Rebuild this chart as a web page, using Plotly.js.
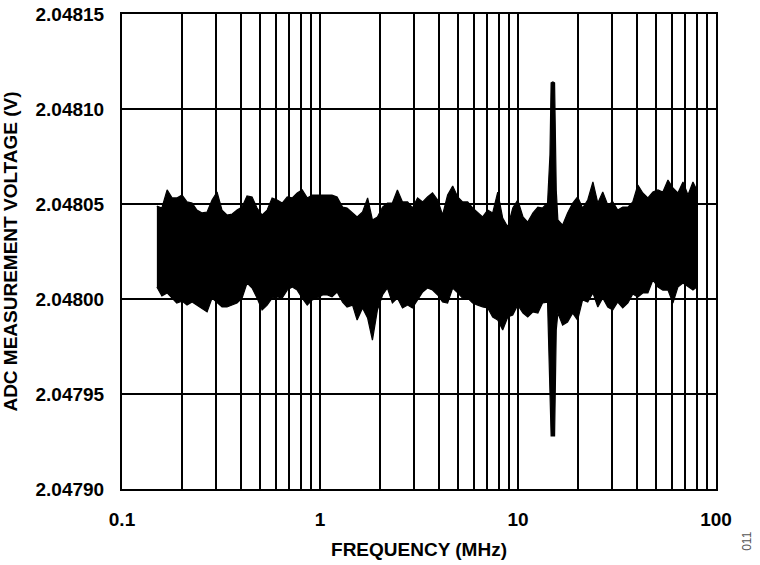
<!DOCTYPE html>
<html>
<head>
<meta charset="utf-8">
<script src="https://cdn.plot.ly/plotly-3.0.1.min.js"></script>
<style>html,body{margin:0;padding:0;background:#fff;}#chart{width:760px;height:565px;}</style>
</head>
<body>
<div id="chart"></div>
<script>
// Frequency sample points (MHz)
const freqMHz = [0.150,0.159,0.169,0.179,0.189,0.201,0.213,0.226,0.239,0.254,0.269,0.285,0.302,0.320,0.339,0.360,0.381,0.404,0.428,0.454,0.481,0.510,0.541,0.573,0.608,0.644,0.683,0.724,0.767,0.813,0.862,0.914,0.969,1.03,1.09,1.15,1.22,1.30,1.37,1.46,1.54,1.64,1.74,1.84,1.95,2.07,2.19,2.32,2.46,2.61,2.77,2.93,3.11,3.30,3.49,3.70,3.93,4.16,4.41,4.68,4.96,5.25,5.57,5.90,6.26,6.63,7.03,7.45,7.90,8.37,8.88,9.41,9.97,10.6,11.2,11.9,12.6,13.3,14.1,14.5,14.7,15.0,15.3,15.6,15.9,16.8,17.8,18.9,20.0,21.2,22.5,23.9,25.3,26.8,28.4,30.1,31.9,33.8,35.9,38.0,40.3,42.7,45.3,48.0,50.9,53.9,57.2,60.6,64.2,68.1,72.2,76.5,80.0];

// Upper envelope of ADC measurement (V)
const upperV = [2.0480489,2.0480479,2.0480574,2.0480532,2.0480532,2.0480547,2.0480511,2.0480505,2.0480468,2.0480453,2.0480458,2.0480521,2.0480563,2.0480468,2.0480442,2.0480447,2.0480468,2.0480484,2.0480542,2.0480537,2.0480479,2.0480442,2.0480468,2.0480532,2.0480521,2.0480505,2.0480537,2.0480532,2.0480558,2.0480574,2.0480532,2.0480547,2.0480547,2.0480547,2.0480547,2.0480547,2.0480537,2.0480484,2.0480479,2.0480453,2.0480432,2.0480458,2.0480532,2.0480416,2.0480432,2.0480484,2.0480505,2.0480505,2.0480574,2.0480511,2.0480511,2.0480479,2.0480532,2.0480511,2.0480537,2.0480558,2.0480521,2.0480442,2.0480547,2.0480595,2.0480537,2.0480511,2.0480511,2.0480479,2.0480453,2.0480432,2.0480468,2.0480453,2.0480563,2.0480426,2.0480379,2.0480479,2.0480521,2.0480432,2.0480405,2.0480453,2.0480484,2.0480479,2.0480505,2.0480758,2.0481137,2.0481142,2.0481137,2.0480574,2.0480416,2.0480389,2.0480453,2.0480505,2.0480537,2.0480479,2.0480521,2.0480616,2.0480505,2.0480563,2.0480495,2.0480511,2.0480468,2.0480484,2.0480484,2.0480511,2.0480600,2.0480558,2.0480532,2.0480563,2.0480574,2.0480563,2.0480626,2.0480584,2.0480558,2.0480616,2.0480547,2.0480616,2.0480574];

// Lower envelope of ADC measurement (V)
const lowerV = [2.0480063,2.0480016,2.0480032,2.0480005,2.0479979,2.0479989,2.0479968,2.0479984,2.0479968,2.0479953,2.0479932,2.0480005,2.0479984,2.0479958,2.0479958,2.0479968,2.0479979,2.0480005,2.0480084,2.0480058,2.0480005,2.0479942,2.0479968,2.0480005,2.0480011,2.0480005,2.0480047,2.0480063,2.0480047,2.0480005,2.0479968,2.0479995,2.0480005,2.0480021,2.0480021,2.0480011,2.0480037,2.0479984,2.0479958,2.0479968,2.0479889,2.0479953,2.0479900,2.0479784,2.0479942,2.0480021,2.0480058,2.0479979,2.0480005,2.0479953,2.0479968,2.0479953,2.0479995,2.0480037,2.0480058,2.0480047,2.0480021,2.0479984,2.0479979,2.0480058,2.0480032,2.0480005,2.0480005,2.0479979,2.0479968,2.0479958,2.0479953,2.0479905,2.0479889,2.0479837,2.0479905,2.0479916,2.0479968,2.0479926,2.0479905,2.0479932,2.0479926,2.0479979,2.0479984,2.0479453,2.0479279,2.0479279,2.0479279,2.0479837,2.0479926,2.0479863,2.0479879,2.0479926,2.0479889,2.0479995,2.0479984,2.0480032,2.0479958,2.0480005,2.0479958,2.0479942,2.0479984,2.0479953,2.0479979,2.0480026,2.0480011,2.0480032,2.0480032,2.0480100,2.0480063,2.0480047,2.0480047,2.0479979,2.0480063,2.0480084,2.0480063,2.0480047,2.0480063];

// Axis ticks
const xTickVals = [0.1,0.2,0.3,0.4,0.5,0.6,0.7,0.8,0.9,1,2,3,4,5,6,7,8,9,10,20,30,40,50,60,70,80,90,100];
const xTickText = ['0.1','','','','','','','','','1','','','','','','','','','10','','','','','','','','','100'];
const yTickVals = [2.04790,2.04795,2.04800,2.04805,2.04810,2.04815];
const yTickText = ['2.04790','2.04795','2.04800','2.04805','2.04810','2.04815'];

const FONT = 'Liberation Sans, Arial, Helvetica, sans-serif';

const traces = [
  {x: freqMHz, y: upperV, type: 'scatter', mode: 'lines', line: {color: '#000', width: 1.2}, hoverinfo: 'skip', showlegend: false},
  {x: freqMHz, y: lowerV, type: 'scatter', mode: 'lines', fill: 'tonexty', fillcolor: '#000', line: {color: '#000', width: 1.2}, hoverinfo: 'skip', showlegend: false}
];

const layout = {
  width: 760, height: 565,
  margin: {l: 122, r: 44, t: 14, b: 76},
  paper_bgcolor: '#fff', plot_bgcolor: '#fff',
  font: {family: FONT, size: 19, color: '#000', weight: 700},
  showlegend: false,
  xaxis: {
    type: 'log', range: [-1, 2],
    tickmode: 'array', tickvals: xTickVals, ticktext: xTickText,
    ticks: 'outside', ticklen: 12, tickcolor: 'rgba(0,0,0,0)',
    showgrid: true, gridcolor: '#000', gridwidth: 2,
    showline: true, linecolor: '#000', linewidth: 2, mirror: true,
    zeroline: false,
    tickfont: {family: FONT, size: 19, color: '#000', weight: 700},
    title: {text: 'FREQUENCY (MHz)', standoff: 14, font: {family: FONT, size: 19, color: '#000', weight: 700}}
  },
  yaxis: {
    range: [2.04790, 2.04815],
    tickmode: 'array', tickvals: yTickVals, ticktext: yTickText,
    ticks: 'outside', ticklen: 12, tickcolor: 'rgba(0,0,0,0)',
    showgrid: true, gridcolor: '#000', gridwidth: 2,
    showline: true, linecolor: '#000', linewidth: 2, mirror: true,
    zeroline: false,
    tickfont: {family: FONT, size: 19, color: '#000', weight: 700},
    title: {text: 'ADC MEASUREMENT VOLTAGE (V)', standoff: 14, font: {family: FONT, size: 19, color: '#000', weight: 700}}
  },
  annotations: [
    {text: '011', xref: 'paper', yref: 'paper', x: 1.066, y: -0.135, showarrow: false, textangle: -90,
     font: {family: FONT, size: 12, color: '#555', weight: 400}}
  ]
};

Plotly.newPlot('chart', traces, layout, {staticPlot: true, displayModeBar: false});
</script>
</body>
</html>
